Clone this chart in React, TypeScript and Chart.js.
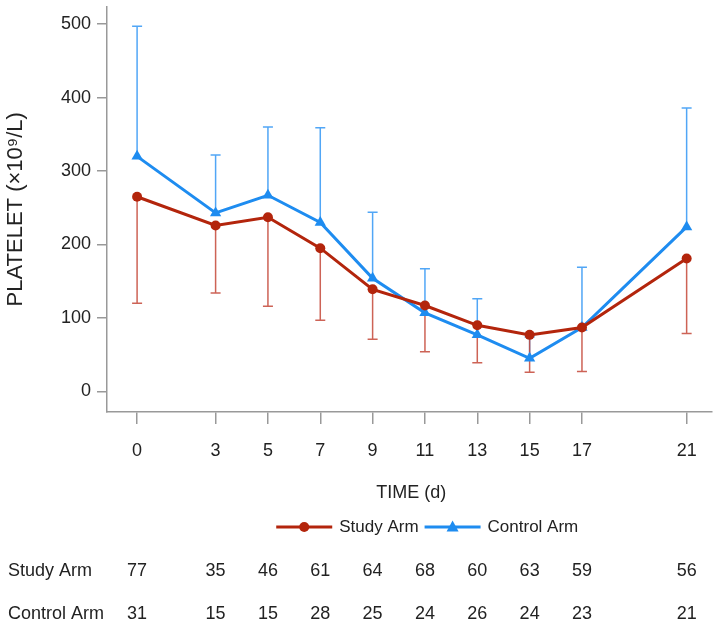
import React, { useEffect, useRef } from "react";
import { Chart, registerables } from "chart.js";

Chart.register(...registerables);

const days = [0, 3, 5, 7, 9, 11, 13, 15, 17, 21];
const studyMean = [265, 226, 237, 195, 139, 117, 90, 77, 87, 181];
const studyLower = [120, 134, 116, 97, 71, 54, 39, 26, 27, 79];
const controlMean = [320, 243, 267, 230, 154, 107, 77, 45, 87, 224];
const controlUpper = [497, 322, 360, 359, 244, 167, 126, 74, 169, 386];
const yTicks = [0, 100, 200, 300, 400, 500];
const studyN = [77, 35, 46, 61, 64, 68, 60, 63, 59, 56];
const controlN = [31, 15, 15, 28, 25, 24, 26, 24, 23, 21];

const seriesNames = ["Study Arm", "Control Arm"];
const yTitle = "PLATELET (×10⁹/L)";
const xTitle = "TIME (d)";

const RED = "#B3250C";
const RED_ERR = "rgba(196,72,56,0.85)";
const BLUE = "#1E8CF0";
const BLUE_ERR = "rgba(50,150,245,0.85)";
const FONT = '"Liberation Sans", Arial, sans-serif';
const TEXT = "#222";

const overlay = {
  id: "overlay",
  beforeDatasetsDraw(chart: any) {
    const ctx = chart.ctx;
    const xs = chart.scales.x;
    const ys = chart.scales.y;
    const cap = 5;
    const drawBar = (x: number, y1: number, y2: number, color: string) => {
      ctx.save();
      ctx.strokeStyle = color;
      ctx.lineWidth = 1.5;
      ctx.beginPath();
      ctx.moveTo(x, y1);
      ctx.lineTo(x, y2);
      ctx.moveTo(x - cap, y2);
      ctx.lineTo(x + cap, y2);
      ctx.stroke();
      ctx.restore();
    };
    days.forEach((d, i) => {
      const x = xs.getPixelForValue(d);
      drawBar(x, ys.getPixelForValue(controlMean[i]), ys.getPixelForValue(controlUpper[i]), BLUE_ERR);
      drawBar(x, ys.getPixelForValue(studyMean[i]), ys.getPixelForValue(studyLower[i]), RED_ERR);
    });
  },
  afterDraw(chart: any) {
    const ctx = chart.ctx;
    const xs = chart.scales.x;
    const area = chart.chartArea;
    const cx = (area.left + area.right) / 2;
    ctx.save();
    ctx.fillStyle = TEXT;
    ctx.textBaseline = "middle";
    // x title
    ctx.font = `18px ${FONT}`;
    ctx.textAlign = "center";
    ctx.fillText(xTitle, cx + 2, 493);

    // legend
    ctx.font = `17px ${FONT}`;
    const lineLen = 56;
    const w1 = ctx.measureText(seriesNames[0]).width;
    const w2 = ctx.measureText(seriesNames[1]).width;
    const total = lineLen + 7 + w1 + 6 + lineLen + 7 + w2;
    let lx = cx + 18 - total / 2;
    const ly = 527;
    // study
    ctx.strokeStyle = RED;
    ctx.lineWidth = 3;
    ctx.beginPath();
    ctx.moveTo(lx, ly);
    ctx.lineTo(lx + lineLen, ly);
    ctx.stroke();
    ctx.fillStyle = RED;
    ctx.beginPath();
    ctx.arc(lx + lineLen / 2, ly, 5, 0, Math.PI * 2);
    ctx.fill();
    lx += lineLen + 7;
    ctx.fillStyle = TEXT;
    ctx.textAlign = "left";
    ctx.fillText(seriesNames[0], lx, ly);
    lx += w1 + 6;
    // control
    ctx.strokeStyle = BLUE;
    ctx.beginPath();
    ctx.moveTo(lx, ly);
    ctx.lineTo(lx + lineLen, ly);
    ctx.stroke();
    ctx.fillStyle = BLUE;
    const tx = lx + lineLen / 2;
    ctx.beginPath();
    ctx.moveTo(tx, ly - 6.5);
    ctx.lineTo(tx + 6, ly + 4.5);
    ctx.lineTo(tx - 6, ly + 4.5);
    ctx.closePath();
    ctx.fill();
    lx += lineLen + 7;
    ctx.fillStyle = TEXT;
    ctx.fillText(seriesNames[1], lx, ly);

    // table
    ctx.font = `18px ${FONT}`;
    const rows = [
      { name: seriesNames[0], vals: studyN, y: 571 },
      { name: seriesNames[1], vals: controlN, y: 614 },
    ];
    rows.forEach((r) => {
      ctx.textAlign = "left";
      ctx.fillText(r.name, 8, r.y);
      ctx.textAlign = "center";
      r.vals.forEach((v, i) => {
        ctx.fillText(String(v), xs.getPixelForValue(days[i]), r.y);
      });
    });
    ctx.restore();
  },
};

export default function App() {
  const ref = useRef<HTMLCanvasElement>(null);
  useEffect(() => {
    if (!ref.current) return;
    const chart = new Chart(ref.current, {
      type: "line",
      data: {
        datasets: [
          {
            label: seriesNames[0],
            data: days.map((d, i) => ({ x: d, y: studyMean[i] })),
            borderColor: RED,
            backgroundColor: RED,
            borderWidth: 3,
            pointStyle: "circle",
            pointRadius: 5,
            pointBorderWidth: 0,
            tension: 0,
          },
          {
            label: seriesNames[1],
            data: days.map((d, i) => ({ x: d, y: controlMean[i] })),
            borderColor: BLUE,
            backgroundColor: BLUE,
            borderWidth: 3,
            pointStyle: "triangle",
            pointRadius: 6.5,
            pointBorderWidth: 0,
            tension: 0,
          },
        ],
      },
      plugins: [overlay],
      options: {
        animation: false,
        responsive: false,
        layout: { padding: { left: 0, right: 6, top: 5, bottom: 0 } },
        plugins: { legend: { display: false }, tooltip: { enabled: false } },
        scales: {
          x: {
            type: "linear",
            min: -1.15,
            max: 21.95,
            afterBuildTicks: (axis: any) => {
              axis.ticks = days.map((v) => ({ value: v }));
            },
            afterFit: (scale: any) => {
              scale.height = 225;
              scale.paddingLeft = 0;
              scale.paddingRight = 0;
            },
            grid: { display: true, drawOnChartArea: false, drawTicks: true, tickLength: 12, color: "#999", lineWidth: 1.5 },
            border: { display: true, color: "#999", width: 1.5 },
            ticks: {
              autoSkip: false,
              maxRotation: 0,
              padding: 16,
              color: TEXT,
              font: { family: FONT, size: 18 },
              callback: (v: any) => String(v),
            },
          },
          y: {
            type: "linear",
            min: -28,
            max: 524,
            afterBuildTicks: (axis: any) => {
              axis.ticks = yTicks.map((v) => ({ value: v }));
            },
            afterFit: (scale: any) => {
              scale.width = 107;
              scale.paddingTop = 0;
              scale.paddingBottom = 0;
            },
            grid: { display: true, drawOnChartArea: false, drawTicks: true, tickLength: 10, color: "#999", lineWidth: 1.5 },
            border: { display: true, color: "#999", width: 1.5 },
            ticks: {
              padding: 6,
              color: TEXT,
              font: { family: FONT, size: 18 },
            },
            title: {
              display: true,
              text: yTitle,
              color: TEXT,
              font: { family: FONT, size: 22 },
              padding: { top: 3, bottom: 0 },
            },
          },
        },
      },
    });
    return () => chart.destroy();
  }, []);
  return (
    <div style={{ position: "absolute", left: 0, top: 0, width: 718, height: 637, background: "#fff" }}>
      <canvas ref={ref} width={718} height={637} style={{ display: "block" }} />
    </div>
  );
}
